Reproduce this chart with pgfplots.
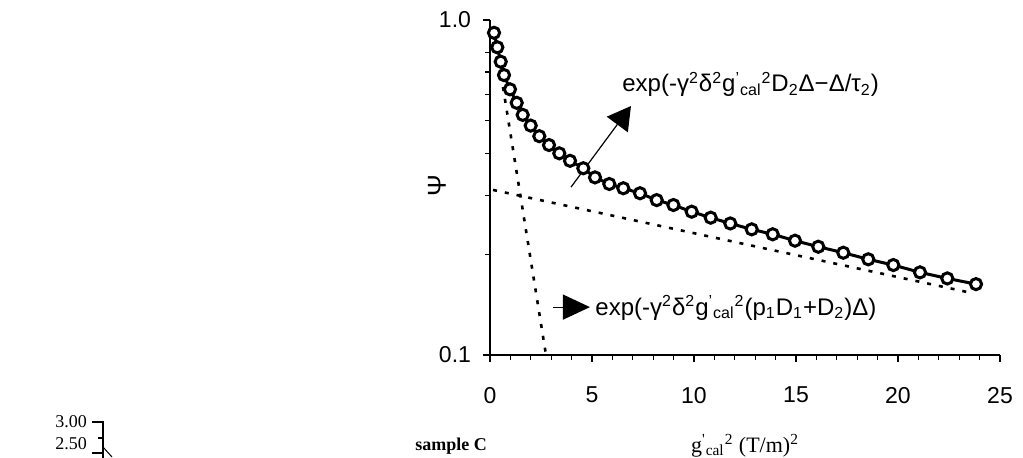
\documentclass[border=0pt]{standalone}
\usepackage{pgfplots}
\pgfplotsset{compat=1.18}
\usetikzlibrary{arrows.meta}
\usepackage{fontspec}
\setmainfont{Liberation Sans}
\newfontfamily\serif{Liberation Serif}
\begin{document}
\begin{tikzpicture}
\useasboundingbox (0,0) rectangle (511.5pt,228.5pt);
\begin{axis}[
  at={(245pt,51pt)}, anchor=south west,
  scale only axis, width=255pt, height=167.5pt,
  ymode=log, xmin=0, xmax=25, ymin=0.1, ymax=1,
  axis x line=bottom, axis y line=left,
  axis line style={-, line width=0.7pt},
  clip=false,
  /pgf/number format/assume math mode=true,
  tick label style={font=\fontsize{11.5}{13}\selectfont},
  xtick={0,5,10,15,20,25}, minor x tick num=4,
  ytick={0.1,1}, yticklabels={0.1,1.0},
  minor ytick={0.2,0.3,0.4,0.5,0.6,0.7,0.8},
  tick align=outside, major tick length=3.5pt, minor tick length=2.3pt,
  tick style={line width=0.6pt, black},
  xticklabel style={yshift=-9pt},
  yticklabel style={xshift=-2.5pt},
  ylabel={\fontsize{13}{15}\selectfont Ψ},
  ylabel style={at={(axis description cs:-0.104,0.507)}, anchor=center},
  xlabel={\serif\fontsize{11}{13}\selectfont g\textsuperscript{'}\textsubscript{cal}\textsuperscript{2} (T/m)\textsuperscript{2}},
  xlabel style={at={(axis description cs:0.5,-0.2716)}, anchor=center},
]
% slow component
\addplot[black, line width=1.3pt, dash pattern=on 2pt off 4pt] coordinates {(0.15,0.311) (23.63,0.1531)};
% fast component
\addplot[black, line width=1.3pt, dash pattern=on 2pt off 4pt] coordinates {(0.637,0.631) (2.745,0.1)};
% data
\addplot[black, line width=1.5pt, mark=*, mark size=2.8pt, mark options={fill=white, line width=1.5pt}] coordinates {
(0.196,0.916) (0.358,0.829) (0.525,0.751) (0.686,0.685) (0.980,0.621)
(1.309,0.566) (1.603,0.521) (1.995,0.484) (2.417,0.450) (2.892,0.4235)
(3.397,0.400) (3.922,0.380) (4.574,0.361) (5.147,0.339) (5.848,0.324)
(6.534,0.3146) (7.353,0.304) (8.172,0.290) (8.990,0.2804) (9.887,0.2678)
(10.818,0.257) (11.779,0.247) (12.828,0.2372) (13.858,0.2293) (14.951,0.2194)
(16.093,0.2105) (17.319,0.202) (18.544,0.1931) (19.770,0.1856) (21.078,0.1765)
(22.417,0.1693) (23.824,0.1628)};
\draw[line width=0.6pt, -{Triangle[length=11.5pt,width=13pt]}] (axis cs:3.97,0.317) -- (axis cs:6.91,0.5537);
\draw[line width=0.6pt, -{Triangle[length=13.5pt,width=12.5pt]}] (axis cs:3.09,0.139) -- (axis cs:4.90,0.139);
\node[anchor=base west, inner sep=0, font=\fontsize{12}{14}\selectfont] at (axis cs:6.47,0.6097)
  {exp(-γ\textsuperscript{2}δ\textsuperscript{2}g\textsuperscript{'}\textsubscript{cal}\textsuperscript{2}D\textsubscript{2}Δ−Δ/τ\textsubscript{2})};
\node[anchor=base west, inner sep=0, font=\fontsize{12}{14}\selectfont] at (axis cs:5.15,0.1316)
  {exp(-γ\textsuperscript{2}δ\textsuperscript{2}g\textsuperscript{'}\textsubscript{cal}\textsuperscript{2}(p\textsubscript{1}D\textsubscript{1}+D\textsubscript{2})Δ)};
\end{axis}
% fragment of the neighbouring figure
\node[font=\serif\fontsize{9}{11}\selectfont] at (35.5pt,17.5pt) {3.00};
\node[font=\serif\fontsize{9}{11}\selectfont, anchor=south] at (35.5pt,0pt) {2.50};
\draw[line width=0.7pt] (46pt,17.5pt) -- (51.5pt,17.5pt) -- (51.5pt,-2pt);
\draw[line width=0.7pt] (49pt,9.5pt) -- (51.5pt,9.5pt);
\draw[line width=0.7pt] (46pt,2pt) -- (51.5pt,2pt);
\draw[line width=0.5pt] (51.5pt,5pt) -- (56pt,0pt);
\node[font=\serif\bfseries\fontsize{9}{11}\selectfont] at (225.5pt,5.5pt) {sample C};
\end{tikzpicture}
\end{document}
